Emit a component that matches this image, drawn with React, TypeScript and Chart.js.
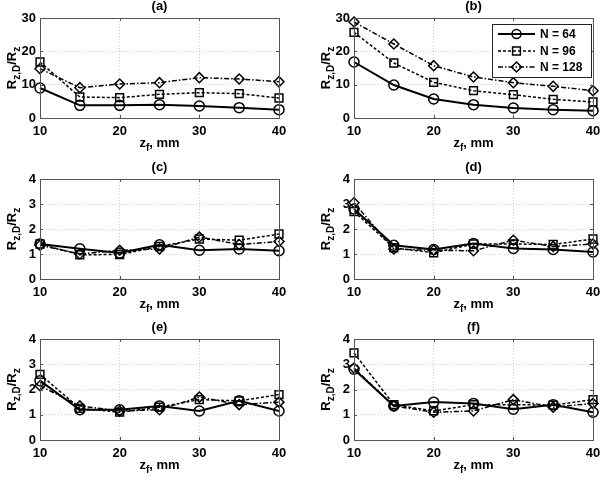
import React, { useEffect, useRef } from 'react';
import { Chart, registerables } from 'chart.js';
Chart.register(...registerables);

const zf = [10, 15, 20, 25, 30, 35, 40];
const seriesLabels = ['N = 64', 'N = 96', 'N = 128'];

const a64 = [9.0, 3.8, 3.8, 4.0, 3.6, 3.1, 2.5];
const a96 = [16.8, 6.3, 6.1, 7.1, 7.6, 7.3, 6.0];
const a128 = [14.8, 9.1, 10.2, 10.6, 12.1, 11.7, 10.9];

const b64 = [16.8, 9.9, 5.7, 4.0, 3.0, 2.5, 2.2];
const b96 = [25.7, 16.5, 10.7, 8.2, 7.0, 5.6, 4.8];
const b128 = [28.8, 22.2, 15.7, 12.3, 10.6, 9.5, 8.2];

const c64 = [1.4, 1.21, 1.04, 1.37, 1.15, 1.2, 1.13];
const c96 = [1.4, 0.97, 0.98, 1.3, 1.6, 1.55, 1.8];
const c128 = [1.35, 1.0, 1.15, 1.2, 1.68, 1.38, 1.5];

const d64 = [2.8, 1.35, 1.18, 1.42, 1.22, 1.18, 1.08];
const d96 = [2.7, 1.25, 1.05, 1.4, 1.4, 1.38, 1.6];
const d128 = [3.05, 1.2, 1.15, 1.13, 1.55, 1.3, 1.4];

const e64 = [2.35, 1.2, 1.2, 1.35, 1.15, 1.55, 1.15];
const e96 = [2.6, 1.25, 1.1, 1.3, 1.6, 1.55, 1.8];
const e128 = [2.15, 1.35, 1.15, 1.2, 1.7, 1.4, 1.5];

const f64 = [2.8, 1.35, 1.5, 1.45, 1.22, 1.4, 1.1];
const f96 = [3.45, 1.4, 1.15, 1.4, 1.4, 1.38, 1.6];
const f128 = [2.85, 1.35, 1.1, 1.15, 1.6, 1.3, 1.45];

const panelTitles = ['(a)', '(b)', '(c)', '(d)', '(e)', '(f)'];
const panelSeries = [
  [a64, a96, a128],
  [b64, b96, b128],
  [c64, c96, c128],
  [d64, d96, d128],
  [e64, e96, e128],
  [f64, f96, f128],
];
const panelYMax = [30, 30, 4, 4, 4, 4];
const panelYStep = [10, 10, 1, 1, 1, 1];

const FONT = "'Liberation Sans', Arial, sans-serif";

// layout (page pixels)
const COL_X = [0, 300];
const ROW_Y = [0, 160, 320];
const ROW_H = [160, 160, 157];
const PLOT_L = [40, 354];
const PLOT_R = [279, 593];
const PLOT_T = [18, 179, 339];
const PLOT_B = [118, 279, 440];

const styles = [
  { dash: [], width: 2, point: 'circle', radius: 5 },
  { dash: [3, 2], width: 1.5, point: 'rect', radius: 5.5 },
  { dash: [5, 2, 1.5, 2], width: 1.5, point: 'rectRot', radius: 5 },
];

function drawYLabel(ctx: CanvasRenderingContext2D, cx: number, cy: number) {
  ctx.save();
  ctx.translate(cx, cy);
  ctx.rotate(-Math.PI / 2);
  ctx.fillStyle = '#000';
  ctx.textBaseline = 'alphabetic';
  ctx.textAlign = 'left';
  const big = `bold 13px ${FONT}`;
  const small = `bold 10px ${FONT}`;
  const parts: [string, string, number][] = [
    ['R', big, 0],
    ['z,D', small, 4],
    ['/R', big, 0],
    ['z', small, 4],
  ];
  let total = 0;
  for (const [t, f] of parts) {
    ctx.font = f;
    total += ctx.measureText(t).width;
  }
  let x = -total / 2;
  for (const [t, f, dy] of parts) {
    ctx.font = f;
    ctx.fillText(t, x, 5 + dy);
    x += ctx.measureText(t).width;
  }
  ctx.restore();
}

function drawXLabel(ctx: CanvasRenderingContext2D, cx: number, baseline: number) {
  ctx.save();
  ctx.fillStyle = '#000';
  ctx.textAlign = 'left';
  ctx.textBaseline = 'alphabetic';
  const big = `bold 13px ${FONT}`;
  const small = `bold 10px ${FONT}`;
  const parts: [string, string, number][] = [
    ['z', big, 0],
    ['f', small, 4],
    [', mm', big, 0],
  ];
  let total = 0;
  for (const [t, f] of parts) {
    ctx.font = f;
    total += ctx.measureText(t).width;
  }
  let x = cx - total / 2;
  for (const [t, f, dy] of parts) {
    ctx.font = f;
    ctx.fillText(t, x, baseline + dy);
    x += ctx.measureText(t).width;
  }
  ctx.restore();
}

function drawMarker(ctx: CanvasRenderingContext2D, kind: string, x: number, y: number, r: number) {
  ctx.beginPath();
  if (kind === 'circle') {
    ctx.arc(x, y, r - 0.5, 0, Math.PI * 2);
  } else if (kind === 'rect') {
    const s = r * Math.SQRT1_2;
    ctx.rect(x - s, y - s, 2 * s, 2 * s);
  } else {
    ctx.moveTo(x, y - r);
    ctx.lineTo(x + r, y);
    ctx.lineTo(x, y + r);
    ctx.lineTo(x - r, y);
    ctx.closePath();
  }
  ctx.stroke();
}

function Panel({ idx }: { idx: number }) {
  const ref = useRef<HTMLCanvasElement | null>(null);
  const col = idx % 2;
  const row = Math.floor(idx / 2);
  const x0 = COL_X[col];
  const y0 = ROW_Y[row];
  const w = 300;
  const h = ROW_H[row];
  const L = PLOT_L[col] - x0;
  const R = PLOT_R[col] - x0;
  const T = PLOT_T[row] - y0;
  const B = PLOT_B[row] - y0;

  useEffect(() => {
    const canvas = ref.current!;
    const series = panelSeries[idx];
    const datasets = series.map((arr, si) => ({
      label: seriesLabels[si],
      data: zf.map((x, i) => ({ x, y: arr[i] })),
      borderColor: '#000',
      backgroundColor: 'rgba(0,0,0,0)',
      borderWidth: styles[si].width,
      borderDash: styles[si].dash,
      pointStyle: styles[si].point,
      pointRadius: styles[si].radius,
      pointBorderWidth: 1.5,
      pointBorderColor: '#000',
      pointBackgroundColor: 'rgba(0,0,0,0)',
      tension: 0,
      fill: false,
      clip: false as any,
    }));

    const decor = {
      id: 'decor' + idx,
      afterDraw(chart: any) {
        const ctx: CanvasRenderingContext2D = chart.ctx;
        const a = chart.chartArea;
        ctx.save();
        // box
        ctx.strokeStyle = '#555';
        ctx.lineWidth = 1;
        ctx.setLineDash([]);
        ctx.strokeRect(Math.round(a.left) + 0.5, Math.round(a.top) + 0.5, Math.round(a.right - a.left), Math.round(a.bottom - a.top));
        // inward ticks
        const xs = chart.scales.x;
        const ys = chart.scales.y;
        ctx.beginPath();
        for (const t of xs.ticks) {
          const px = Math.round(xs.getPixelForValue(t.value)) + 0.5;
          ctx.moveTo(px, a.bottom);
          ctx.lineTo(px, a.bottom - 3);
          ctx.moveTo(px, a.top);
          ctx.lineTo(px, a.top + 3);
        }
        for (const t of ys.ticks) {
          const py = Math.round(ys.getPixelForValue(t.value)) + 0.5;
          ctx.moveTo(a.left, py);
          ctx.lineTo(a.left + 3, py);
          ctx.moveTo(a.right, py);
          ctx.lineTo(a.right - 3, py);
        }
        ctx.stroke();
        // title
        const cx = (a.left + a.right) / 2;
        ctx.fillStyle = '#000';
        ctx.font = `bold 13px ${FONT}`;
        ctx.textAlign = 'center';
        ctx.textBaseline = 'alphabetic';
        ctx.fillText(panelTitles[idx], cx, a.top - 8);
        ctx.restore();
        drawXLabel(ctx, cx, a.bottom + 29);
        drawYLabel(ctx, a.left - 29, (a.top + a.bottom) / 2);

        if (idx === 1) {
          // legend
          ctx.save();
          const lx = 492 - x0;
          const ly = 24 - y0;
          const lw = 99;
          const lh = 53;
          ctx.fillStyle = '#fff';
          ctx.fillRect(lx, ly, lw, lh);
          ctx.strokeStyle = '#222';
          ctx.lineWidth = 1;
          ctx.setLineDash([]);
          ctx.strokeRect(lx + 0.5, ly + 0.5, lw, lh);
          const rowsY = [34, 51, 67];
          ctx.font = `bold 12px ${FONT}`;
          ctx.textAlign = 'left';
          ctx.textBaseline = 'middle';
          for (let si = 0; si < 3; si++) {
            const yy = rowsY[si] - y0;
            ctx.strokeStyle = '#000';
            ctx.lineWidth = styles[si].width;
            ctx.setLineDash(styles[si].dash);
            ctx.beginPath();
            ctx.moveTo(498 - x0, yy);
            ctx.lineTo(535 - x0, yy);
            ctx.stroke();
            ctx.setLineDash([]);
            ctx.lineWidth = 1.5;
            drawMarker(ctx, styles[si].point, 516.5 - x0, yy, styles[si].radius);
            ctx.fillStyle = '#000';
            ctx.fillText(seriesLabels[si], 540 - x0, yy + 1);
          }
          ctx.restore();
        }
      },
    };

    const tickFont = { family: FONT, size: 13, weight: 'bold' as const };
    const chart = new Chart(canvas, {
      type: 'line',
      data: { datasets },
      options: {
        responsive: false,
        maintainAspectRatio: false,
        animation: false,
        layout: { padding: { top: T, right: w - R, left: 0, bottom: 0 } },
        scales: {
          x: {
            type: 'linear',
            min: 10,
            max: 40,
            ticks: { stepSize: 10, font: tickFont, color: '#000', padding: 6, maxRotation: 0 },
            grid: { color: '#cfcfcf', lineWidth: 1, drawTicks: false },
            border: { display: false, dash: [1, 2] },
            afterFit: (s: any) => {
              s.height = h - B;
              s.paddingLeft = 0;
              s.paddingRight = 0;
            },
          },
          y: {
            type: 'linear',
            min: 0,
            max: panelYMax[idx],
            ticks: { stepSize: panelYStep[idx], font: tickFont, color: '#000', padding: 4 },
            grid: { color: '#cfcfcf', lineWidth: 1, drawTicks: false },
            border: { display: false, dash: [1, 2] },
            afterFit: (s: any) => {
              s.width = L;
              s.paddingTop = 0;
              s.paddingBottom = 0;
            },
          },
        },
        plugins: {
          legend: { display: false },
          tooltip: { enabled: false },
          title: { display: false },
        },
      },
      plugins: [decor],
    });
    return () => chart.destroy();
  }, [idx]);

  return (
    <canvas
      ref={ref}
      width={w}
      height={h}
      style={{ position: 'absolute', left: x0, top: y0, width: w, height: h }}
    />
  );
}

export default function App() {
  return (
    <div
      style={{
        position: 'absolute',
        left: 0,
        top: 0,
        width: 600,
        height: 477,
        background: '#fff',
        overflow: 'hidden',
      }}
    >
      {[0, 1, 2, 3, 4, 5].map((i) => (
        <Panel key={i} idx={i} />
      ))}
    </div>
  );
}
